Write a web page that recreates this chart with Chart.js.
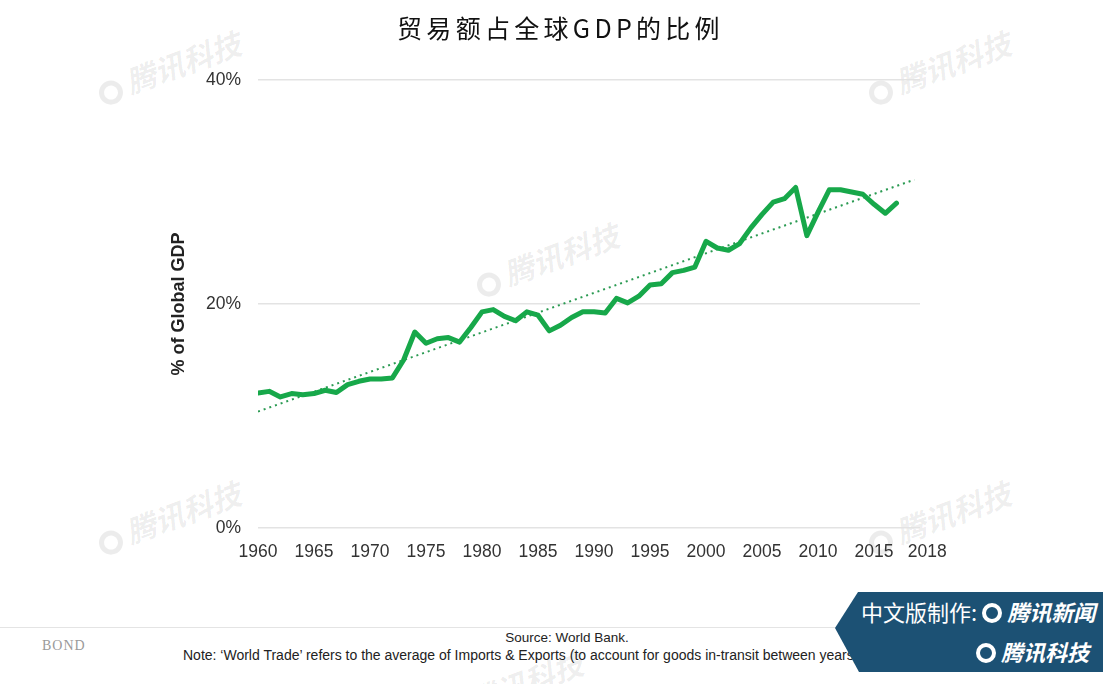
<!DOCTYPE html>
<html>
<head>
<meta charset="utf-8">
<script src="https://cdn.jsdelivr.net/npm/chart.js@4/dist/chart.umd.min.js"></script>
<style>
  html, body { margin: 0; padding: 0; background: #fff; }
  #wrap { position: relative; width: 1103px; height: 684px; overflow: hidden; background: #fff; }
  #c { position: absolute; left: 0; top: 0; }
  .wm { position: absolute; color: rgba(0,0,0,0.075); font: bold italic 30px "Noto Sans CJK SC"; transform: rotate(-20deg); transform-origin: left center; white-space: nowrap; }
  .wm .ic { display: inline-block; width: 24px; height: 24px; border: 5px solid rgba(0,0,0,0.075); border-radius: 50%; vertical-align: -4px; margin-right: 6px; box-sizing: border-box; }
  #title { position: absolute; top: 9px; left: 9px; width: 1103px; text-align: center; font: 25px "Noto Sans CJK SC"; letter-spacing: 4.3px; color: #111; }
  #rule { position: absolute; left: 0; top: 627px; width: 850px; height: 1px; background: #e4e4e4; }
  #bond { position: absolute; left: 42px; top: 638px; font: 14px "Liberation Serif", "DejaVu Serif", serif; color: #9a9a9a; letter-spacing: 1px; }
  #src { position: absolute; left: 0; width: 1134px; top: 630px; text-align: center; font: 13.5px "Liberation Sans", Arial, sans-serif; color: #222; }
  #note { position: absolute; left: 183px; top: 647px; font: 14px "Liberation Sans", Arial, sans-serif; color: #222; white-space: nowrap; }
  #banner { position: absolute; left: 835px; top: 592px; width: 268px; height: 80px; background: #1c5174; clip-path: polygon(23px 0, 100% 0, 100% 100%, 24px 100%, 0 45%); overflow: hidden; }
  .bt { position: absolute; color: #fff; font: 22px "Noto Sans CJK SC"; white-space: nowrap; }
  .bt b { font-style: italic; font-weight: bold; }
  .bic { display: inline-block; width: 20px; height: 20px; border: 4px solid #fff; border-radius: 50%; box-sizing: border-box; vertical-align: -2px; margin: 0 5px; }
</style>
</head>
<body>
<div id="wrap">
  <div class="wm" style="left:98px;top:70px;"><span class="ic"></span>腾讯科技</div>
  <div class="wm" style="left:868px;top:70px;"><span class="ic"></span>腾讯科技</div>
  <div class="wm" style="left:476px;top:262px;"><span class="ic"></span>腾讯科技</div>
  <div class="wm" style="left:98px;top:520px;"><span class="ic"></span>腾讯科技</div>
  <div class="wm" style="left:868px;top:520px;"><span class="ic"></span>腾讯科技</div>
  <div class="wm" style="left:440px;top:690px;"><span class="ic"></span>腾讯科技</div>
  <canvas id="c" width="1103" height="600"></canvas>
  <div id="title">贸易额占全球GDP的比例</div>
  <div id="rule"></div>
  <div id="bond">BOND</div>
  <div id="src">Source: World Bank.</div>
  <div id="note">Note: ‘World Trade’ refers to the average of Imports &amp; Exports (to account for goods in-transit between years).</div>
  <div id="banner">
    <div class="bt" style="left:26px;top:3px;">中文版制作:<span class="bic"></span><b>腾讯新闻</b></div>
    <div class="bt" style="left:136px;top:43px;"><span class="bic"></span><b>腾讯科技</b></div>
  </div>
</div>
<script>
const years = [1960,1961,1962,1963,1964,1965,1966,1967,1968,1969,
  1970,1971,1972,1973,1974,1975,1976,1977,1978,1979,
  1980,1981,1982,1983,1984,1985,1986,1987,1988,1989,
  1990,1991,1992,1993,1994,1995,1996,1997,1998,1999,
  2000,2001,2002,2003,2004,2005,2006,2007,2008,2009,
  2010,2011,2012,2013,2014,2015,2016,2017];
const tradeShare = [12.05,12.2,11.7,12.0,11.9,12.0,12.3,12.1,12.8,13.1,
  13.3,13.3,13.4,15.0,17.5,16.5,16.9,17.0,16.6,17.9,
  19.3,19.5,18.9,18.5,19.3,19.0,17.6,18.1,18.8,19.3,
  19.3,19.2,20.5,20.1,20.7,21.7,21.8,22.8,23.0,23.3,
  25.6,25.0,24.8,25.4,26.8,28.0,29.1,29.4,30.4,26.1,
  28.2,30.2,30.2,30.0,29.8,28.9,28.1,29.0];
const trendYears = [1960, 2018.6];
const trendValues = [10.4, 31.1];
const xTickYears = [1960,1965,1970,1975,1980,1985,1990,1995,2000,2005,2010,2015,2018];
const yTickValues = [0, 20, 40];

const main = years.map((y, i) => ({x: y, y: tradeShare[i]}));
const trend = trendYears.map((y, i) => ({x: y, y: trendValues[i]}));

new Chart(document.getElementById('c'), {
  type: 'line',
  data: {
    datasets: [
      { data: trend, borderColor: '#2a9a52', borderWidth: 2, borderDash: [2, 4], pointRadius: 0, fill: false, order: 2 },
      { data: main, borderColor: '#17a84a', borderWidth: 5, pointRadius: 0, fill: false, tension: 0, order: 1, borderJoinStyle: 'round', borderCapStyle: 'round' }
    ]
  },
  options: {
    responsive: false,
    animation: false,
    layout: { padding: { left: 166, top: 80, right: 183, bottom: 0 } },
    plugins: { legend: { display: false }, tooltip: { enabled: false } },
    scales: {
      x: {
        type: 'linear', min: 1960, max: 2019.1,
        afterBuildTicks: s => { s.ticks = xTickYears.map(v => ({value: v})); },
        afterFit: s => { s.height = 72; },
        grid: { display: false },
        border: { display: false },
        ticks: { color: '#333', font: { family: 'Liberation Sans', size: 17.5 }, padding: 6, maxRotation: 0, autoSkip: false,
          callback: v => v === 2018 ? '\u2007\u2007\u2007\u20072018' : String(v) }
      },
      y: {
        min: 0, max: 40,
        afterBuildTicks: s => { s.ticks = yTickValues.map(v => ({value: v})); },
        afterFit: s => { s.width = 92; },
        grid: { color: '#e3e3e3', lineWidth: 1.5, drawTicks: false },
        border: { display: false },
        ticks: { color: '#333', font: { family: 'Liberation Sans', size: 17.5 }, padding: 17, callback: v => v + '%' },
        title: { display: true, text: '% of Global GDP', color: '#222', font: { family: 'Liberation Sans', size: 18, weight: 'bold' }, padding: { top: 2, bottom: 0 } }
      }
    }
  }
});
</script>
</body>
</html>
